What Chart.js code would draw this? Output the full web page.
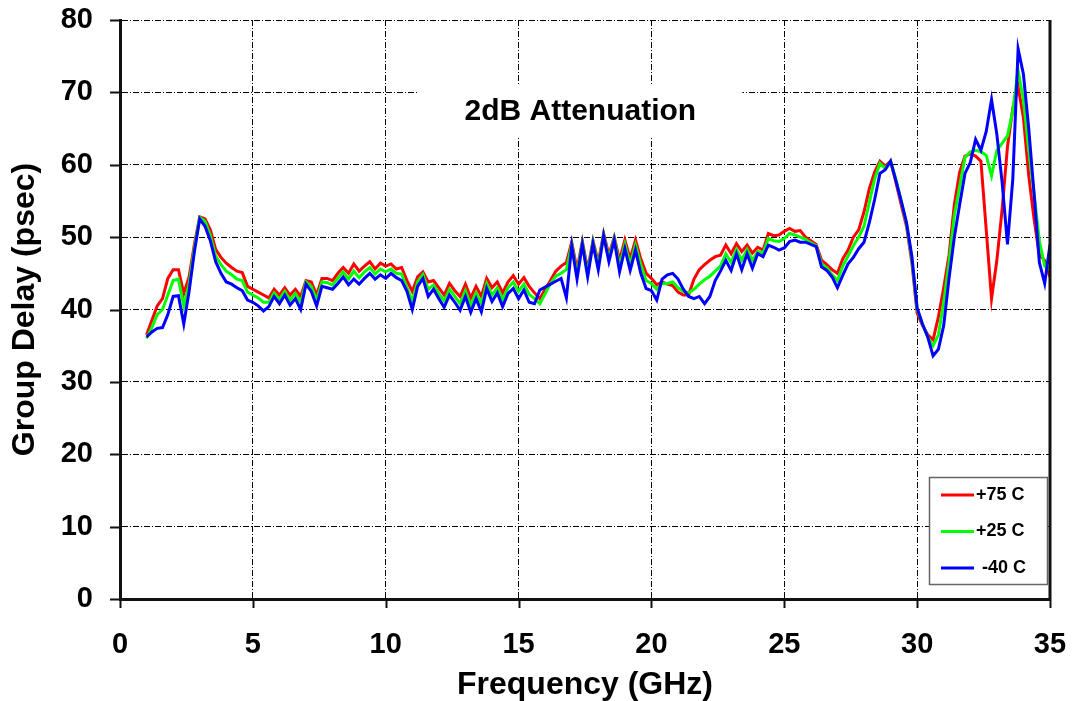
<!DOCTYPE html>
<html>
<head>
<meta charset="utf-8">
<script src="https://cdn.jsdelivr.net/npm/chart.js@4.4.0/dist/chart.umd.min.js"></script>
<style>
  html, body { margin: 0; padding: 0; background: #fff; }
  #wrap { width: 1075px; height: 701px; }
</style>
</head>
<body>
<div id="wrap"><canvas id="delayChart" width="1075" height="701"></canvas></div>
<script>
// --- DATA ---

const freqGHz = [
  1.0, 1.2, 1.4, 1.6, 1.8,  2.0, 2.2, 2.4, 2.6, 2.8,
  3.0, 3.2, 3.4, 3.6, 3.8,  4.0, 4.2, 4.4, 4.6, 4.8,
  5.0, 5.2, 5.4, 5.6, 5.8,  6.0, 6.2, 6.4, 6.6, 6.8,
  7.0, 7.2, 7.4, 7.6, 7.8,  8.0, 8.2, 8.4, 8.6, 8.8,
  9.0, 9.2, 9.4, 9.6, 9.8,  10.0, 10.2, 10.4, 10.6, 10.8,
  11.0, 11.2, 11.4, 11.6, 11.8,  12.0, 12.2, 12.4, 12.6, 12.8,
  13.0, 13.2, 13.4, 13.6, 13.8,  14.0, 14.2, 14.4, 14.6, 14.8,
  15.0, 15.2, 15.4, 15.6, 15.8,  16.0, 16.2, 16.4, 16.6, 16.8,
  17.0, 17.2, 17.4, 17.6, 17.8,  18.0, 18.2, 18.4, 18.6, 18.8,
  19.0, 19.2, 19.4, 19.6, 19.8,  20.0, 20.2, 20.4, 20.6, 20.8,
  21.0, 21.2, 21.4, 21.6, 21.8,  22.0, 22.2, 22.4, 22.6, 22.8,
  23.0, 23.2, 23.4, 23.6, 23.8,  24.0, 24.2, 24.4, 24.6, 24.8,
  25.0, 25.2, 25.4, 25.6, 25.8,  26.0, 26.2, 26.4, 26.6, 26.8,
  27.0, 27.2, 27.4, 27.6, 27.8,  28.0, 28.2, 28.4, 28.6, 28.8,
  29.0, 29.2, 29.4, 29.6, 29.8,  30.0, 30.2, 30.4, 30.6, 30.8,
  31.0, 31.2, 31.4, 31.6, 31.8,  32.0, 32.2, 32.4, 32.6, 32.8,
  33.0, 33.2, 33.4, 33.6, 33.8,  34.0, 34.2, 34.4, 34.6, 34.8,
  35.0
];

// +75 C
const delayHot = [
  36.5, 38.5, 40.5, 41.5, 44.3,  45.5, 45.5, 42.2, 44.5, 49.0,
  52.8, 52.5, 51.0, 48.3, 47.2,  46.4, 45.8, 45.3, 45.1, 43.2,
  42.8, 42.4, 42.0, 41.6, 42.8,  42.0, 43.0, 42.0, 42.8, 41.8,
  44.0, 43.8, 42.0, 44.3, 44.3,  44.0, 45.0, 45.8, 45.0, 46.3,
  45.3, 46.0, 46.6, 45.6, 46.4,  46.0, 46.3, 45.6, 45.8, 44.0,
  42.5, 44.5, 45.2, 43.8, 44.0,  43.0, 42.0, 43.6, 42.6, 41.8,
  43.5, 41.6, 43.2, 41.8, 44.3,  43.0, 43.8, 42.3, 43.8, 44.7,
  43.5, 44.4, 43.2, 42.3, 41.5,  42.8, 44.0, 45.3, 46.0, 46.5,
  49.3, 45.5, 49.4, 45.5, 49.5,  46.5, 50.5, 47.5, 50.0, 46.8,
  49.6, 47.0, 49.6, 47.0, 45.0,  44.3, 43.4, 43.8, 43.5, 43.3,
  42.4, 42.0, 42.0, 44.2, 45.5,  46.2, 46.8, 47.3, 47.5, 48.9,
  47.7, 49.1, 48.0, 48.9, 47.8,  48.6, 48.2, 50.5, 50.2, 50.3,
  50.8, 51.2, 50.8, 50.9, 50.0,  49.5, 49.0, 46.8, 46.2, 45.5,
  45.0, 47.0, 48.2, 50.0, 51.0,  53.5, 56.7, 59.0, 60.5, 59.8,
  60.5, 57.6, 54.5, 51.5, 46.5,  39.5, 37.8, 36.5, 35.8, 39.0,
  43.0, 47.5, 54.5, 59.0, 61.2,  61.5, 61.2, 60.5, 51.0, 41.5,
  46.8, 53.9, 62.5, 67.8, 70.8,  66.5, 58.5, 52.5, 47.5, 46.8,
  44.5
];

// +25 C
const delayRoom = [
  36.0, 37.5, 39.3, 40.0, 42.0,  44.0, 44.2, 40.5, 43.5, 48.5,
  52.7, 52.2, 50.2, 47.4, 46.2,  45.3, 44.8, 44.2, 44.0, 42.4,
  42.0, 41.6, 41.0, 41.0, 42.3,  41.4, 42.5, 41.3, 42.2, 41.0,
  43.8, 43.2, 41.3, 43.8, 43.7,  43.4, 44.3, 45.2, 44.2, 45.3,
  44.4, 45.2, 45.8, 44.9, 45.6,  45.2, 45.6, 45.0, 44.9, 43.0,
  41.2, 43.8, 44.8, 42.8, 43.4,  42.2, 41.2, 42.8, 41.8, 40.8,
  42.6, 40.6, 42.3, 40.8, 43.6,  42.0, 43.0, 41.4, 43.0, 43.8,
  42.5, 43.5, 42.1, 41.5, 40.8,  42.2, 43.6, 44.6, 45.0, 45.5,
  49.0, 44.8, 49.2, 45.0, 49.3,  46.0, 50.3, 47.0, 49.8, 46.0,
  49.0, 46.2, 48.9, 46.2, 44.0,  43.6, 42.8, 43.6, 43.6, 43.8,
  43.0, 42.5, 42.3, 42.8, 43.5,  44.1, 44.6, 45.3, 46.0, 47.7,
  46.5, 48.3, 46.8, 48.3, 46.8,  48.0, 47.8, 49.8, 49.5, 49.4,
  49.8, 50.5, 50.3, 50.0, 49.7,  49.2, 48.8, 46.3, 45.8, 44.8,
  44.0, 46.0, 47.4, 48.8, 50.0,  51.5, 54.8, 58.0, 60.2, 59.5,
  60.5, 58.0, 55.0, 51.8, 47.0,  40.0, 38.0, 36.2, 35.0, 36.5,
  41.0, 46.5, 53.0, 57.0, 61.0,  61.8, 62.0, 61.8, 61.3, 58.5,
  62.0, 63.0, 64.0, 67.5, 73.0,  69.0, 62.0, 56.0, 49.5, 46.0,
  45.5
];

// -40 C
const delayCold = [
  36.2, 36.9, 37.4, 37.5, 39.3,  41.8, 41.9, 38.0, 42.5, 48.0,
  52.5, 51.5, 49.5, 46.6, 45.0,  43.8, 43.5, 43.0, 42.6, 41.3,
  41.0, 40.5, 39.8, 40.4, 41.8,  40.8, 42.0, 40.6, 41.5, 40.0,
  43.5, 42.5, 40.5, 43.2, 43.0,  42.8, 43.6, 44.5, 43.4, 44.2,
  43.5, 44.3, 45.0, 44.2, 44.8,  44.3, 45.0, 44.4, 44.0, 42.5,
  40.0, 43.2, 44.3, 41.8, 42.8,  41.5, 40.3, 42.0, 41.0, 39.9,
  41.8, 39.6, 41.5, 39.7, 42.9,  41.1, 42.3, 40.4, 42.2, 42.9,
  41.5, 42.7, 41.0, 40.8, 42.7,  43.1, 43.5, 43.9, 44.3, 41.6,
  48.8, 44.2, 49.0, 44.5, 49.1,  45.5, 50.2, 46.6, 49.6, 45.2,
  48.4, 45.4, 48.2, 45.0, 42.9,  42.6, 41.3, 44.2, 44.8, 45.0,
  44.2, 42.8, 41.8, 41.5, 41.8,  40.8, 41.8, 44.0, 45.3, 46.8,
  45.4, 47.7, 45.5, 47.7, 45.7,  47.7, 47.3, 48.9, 48.6, 48.2,
  48.5, 49.4, 49.6, 49.3, 49.3,  49.0, 48.7, 45.9, 45.4, 44.5,
  43.0, 44.7, 46.3, 47.2, 48.4,  49.3, 52.0, 55.2, 58.8, 59.3,
  60.5, 57.8, 55.0, 52.0, 47.4,  40.2, 38.0, 36.2, 33.6, 34.5,
  37.8, 44.3, 50.0, 54.5, 58.8,  60.3, 63.5, 62.0, 64.6, 69.0,
  64.2, 57.5, 49.0, 58.0, 76.0,  72.5, 65.0, 56.0, 46.5, 43.6,
  49.0
];

const seriesNames = ["+75 C", "+25 C", "-40 C"];
const seriesColors = ["#ff0000", "#00ff00", "#0000ff"];
const xTicks = [0, 5, 10, 15, 20, 25, 30, 35];
const yTicks = [0, 10, 20, 30, 40, 50, 60, 70, 80];
const chartTitle = "2dB Attenuation";
const fontFamily = "'Liberation Sans', Arial, sans-serif";

function toPoints(values) {
  return values.map((v, i) => ({ x: freqGHz[i], y: v }));
}

// --- EXTRA DRAWING: title box, ticks, right border, legend ---

const chartDecor = {
  id: "chartDecor",
  beforeDatasetsDraw(chart) {
    const { ctx, chartArea: a } = chart;
    const cx = a.left + (a.right - a.left) * 0.495;
    ctx.save();
    ctx.fillStyle = "#fff";
    ctx.fillRect(cx - 162, 84, 324, 52);
    ctx.fillStyle = "#000";
    ctx.font = "bold 30px " + fontFamily;
    ctx.textAlign = "center";
    ctx.textBaseline = "middle";
    ctx.fillText(chartTitle, cx, 112);
    ctx.restore();
  },
  afterDraw(chart) {
    const { ctx, chartArea: a, scales } = chart;
    ctx.save();
    ctx.strokeStyle = "#111";
    ctx.lineWidth = 2;
    // tick marks outside the axes
    ctx.beginPath();
    yTicks.forEach(t => {
      const y = Math.round(scales.y.getPixelForValue(t)) + 0.5;
      ctx.moveTo(a.left - 10, y);
      ctx.lineTo(a.left, y);
    });
    xTicks.forEach(t => {
      const x = Math.round(scales.x.getPixelForValue(t)) + 0.5;
      ctx.moveTo(x, a.bottom);
      ctx.lineTo(x, a.bottom + 9);
    });
    ctx.stroke();
    // right frame line
    ctx.lineWidth = 3;
    ctx.beginPath();
    ctx.moveTo(a.right, a.top);
    ctx.lineTo(a.right, a.bottom);
    ctx.stroke();

    // legend box
    const bx = a.right - 121, by = 477, bw = 118, bh = 107;
    ctx.fillStyle = "#fff";
    ctx.fillRect(bx, by, bw, bh);
    ctx.strokeStyle = "#666";
    ctx.lineWidth = 1.5;
    ctx.strokeRect(bx + 0.5, by + 0.5, bw, bh);
    ctx.font = "bold 18px " + fontFamily;
    ctx.textBaseline = "middle";
    ctx.textAlign = "left";
    seriesNames.forEach((name, i) => {
      const ly = by + 18 + i * 36.5;
      ctx.strokeStyle = seriesColors[i];
      ctx.lineWidth = 3;
      ctx.beginPath();
      ctx.moveTo(bx + 12, ly);
      ctx.lineTo(bx + 45, ly);
      ctx.stroke();
      ctx.fillStyle = "#000";
      ctx.fillText(name, bx + (name.startsWith("-") ? 53 : 47), ly);
    });
    ctx.restore();
  }
};

const gridOpts = { color: "#000", lineWidth: 1, drawTicks: false };
const borderOpts = { display: true, color: "#111", width: 3, dash: [6, 2, 1, 2] };

new Chart(document.getElementById("delayChart"), {
  type: "line",
  data: {
    datasets: [
      { label: seriesNames[0], data: toPoints(delayHot),  borderColor: seriesColors[0], order: 3 },
      { label: seriesNames[1], data: toPoints(delayRoom), borderColor: seriesColors[1], order: 2 },
      { label: seriesNames[2], data: toPoints(delayCold), borderColor: seriesColors[2], order: 1 }
    ].map(d => ({ ...d, borderWidth: 3, pointRadius: 0, tension: 0, fill: false }))
  },
  options: {
    responsive: false,
    devicePixelRatio: 1,
    animation: false,
    layout: { padding: { top: 20, right: 25, left: 0, bottom: 0 } },
    plugins: { legend: { display: false }, tooltip: { enabled: false } },
    scales: {
      x: {
        type: "linear", min: 0, max: 35,
        grid: gridOpts, border: borderOpts,
        ticks: { stepSize: 5, padding: 29, color: "#000", font: { family: fontFamily, size: 29, weight: "bold" } },
        title: { display: true, text: "Frequency (GHz)", color: "#000", padding: 0,
                 font: { family: fontFamily, size: 32, weight: "bold", lineHeight: 1 } },
        afterFit: s => { s.height = 102; s.paddingLeft = 0; s.paddingRight = 0; }
      },
      y: {
        min: 0, max: 80,
        grid: gridOpts, border: borderOpts,
        ticks: { stepSize: 10, padding: 27, color: "#000", font: { family: fontFamily, size: 29, weight: "bold" } },
        title: { display: true, text: "Group Delay (psec)", color: "#000", padding: { top: 9, bottom: 0 },
                 font: { family: fontFamily, size: 32, weight: "bold", lineHeight: 1 } },
        afterFit: s => { s.width = 120; s.paddingTop = 0; s.paddingBottom = 0; }
      }
    }
  },
  plugins: [chartDecor]
});
</script>
</body>
</html>
